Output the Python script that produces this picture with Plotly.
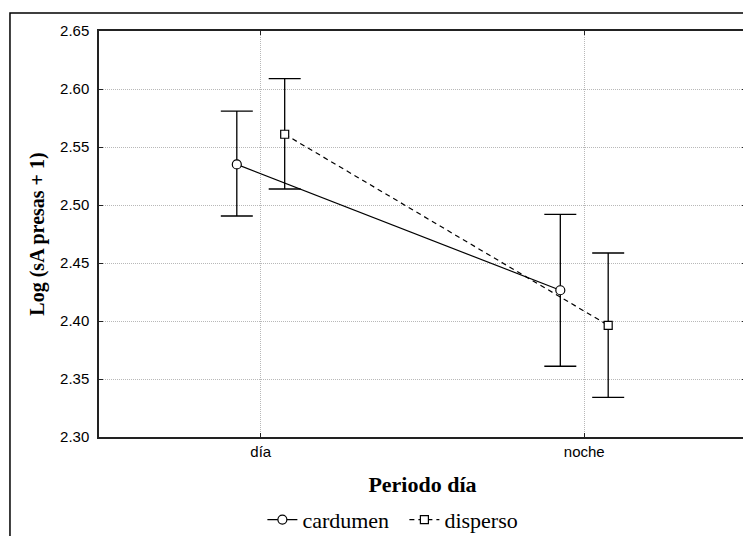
import plotly.graph_objects as go

# ---- data ----
periods = ["día", "noche"]
groups = ["cardumen", "disperso"]

cardumen_mean = [2.535, 2.4265]
cardumen_low = [2.4905, 2.361]
cardumen_high = [2.581, 2.492]

disperso_mean = [2.561, 2.3963]
disperso_low = [2.5138, 2.3342]
disperso_high = [2.6089, 2.4586]

y_ticks = [2.30, 2.35, 2.40, 2.45, 2.50, 2.55, 2.60, 2.65]

SERIF = "Times New Roman, Liberation Serif, serif"
SANS = "Arial, Liberation Sans, sans-serif"

offset = 0.074
base_x = list(range(len(periods)))

fig = go.Figure()

series = [
    (groups[0], cardumen_mean, cardumen_low, cardumen_high, -offset, "circle", "solid", 9),
    (groups[1], disperso_mean, disperso_low, disperso_high, +offset, "square", "5px,4px", 8),
]
for name, mean, low, high, off, sym, dash, msize in series:
    fig.add_trace(go.Scatter(
        x=[b + off for b in base_x],
        y=mean,
        name=name,
        mode="lines+markers",
        line=dict(color="black", width=1.2, dash=dash),
        marker=dict(symbol=sym, size=msize, color="white",
                    line=dict(color="black", width=1.2)),
        error_y=dict(type="data", symmetric=False,
                     array=[h - m for h, m in zip(high, mean)],
                     arrayminus=[m - l for m, l in zip(mean, low)],
                     color="black", thickness=1.3, width=16),
    ))

axis_common = dict(
    showline=True, linecolor="#222", linewidth=1.5, mirror="ticks",
    ticks="inside", ticklen=4, tickcolor="#222", tickwidth=1,
    showgrid=True, gridcolor="#b8b8b8", gridwidth=1, griddash="1px,1px",
    zeroline=False, tickfont=dict(family=SANS, size=15, color="black"),
)

fig.update_xaxes(
    range=[-0.5, 1.5], tickvals=base_x, ticktext=periods,
    title=dict(text="<b>Periodo día</b>", font=dict(family=SERIF, size=22, color="black"), standoff=18),
    **axis_common,
)
fig.update_yaxes(
    range=[2.30, 2.65], tickvals=y_ticks, ticktext=[f"{v:.2f}" for v in y_ticks],
    title=dict(text="<b>Log (sA presas + 1)</b>", font=dict(family=SERIF, size=20, color="black"), standoff=10),
    ticklabelstandoff=5,
    **axis_common,
)

# the page body has an 8px margin, so the figure is sized to fit the window
fig.update_layout(
    width=743, height=528,
    margin=dict(l=91, r=5, t=23, b=99, autoexpand=False),
    paper_bgcolor="white", plot_bgcolor="white",
    showlegend=True,
    legend=dict(orientation="h", x=0.472, xanchor="center", y=-0.204, yanchor="middle",
                font=dict(family=SERIF, size=22, color="black"),
                bgcolor="rgba(0,0,0,0)", itemwidth=30, entrywidth=97, entrywidthmode="pixels"),
    shapes=[dict(type="rect", xref="paper", yref="paper",
                 x0=-0.1376, y0=-0.3, x1=1.2, y1=1.0443,
                 line=dict(color="black", width=1.5), layer="below")],
)

fig.write_html("out.html")
